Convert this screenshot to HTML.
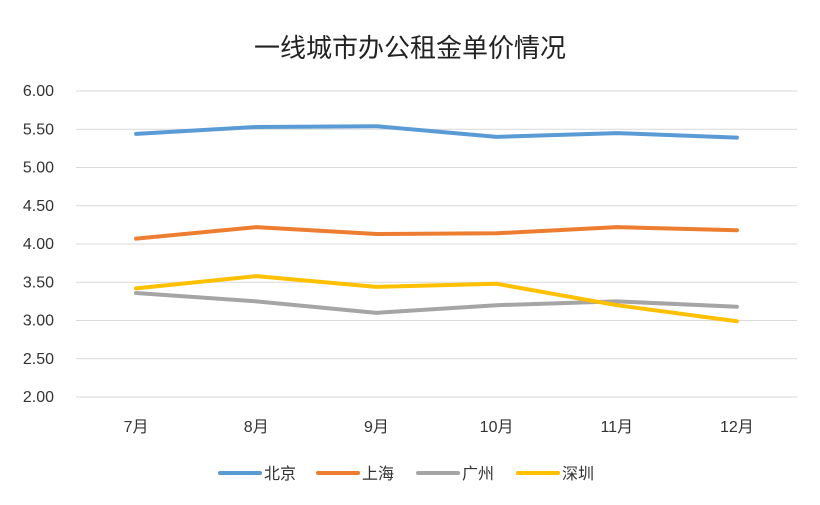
<!DOCTYPE html>
<html><head><meta charset="utf-8">
<style>
body{margin:0;background:#fff;}
svg{display:block;font-family:"Liberation Sans","Noto Sans CJK SC",sans-serif;}
</style></head>
<body>
<svg id="chart" width="820" height="505">
<text x="410" y="57" text-anchor="middle" font-size="26" fill="#222">一线城市办公租金单价情况</text>
<g id="grid"></g><g id="lines"></g><g id="legend"></g>
</svg>
<script>
const categories=["7月","8月","9月","10月","11月","12月"];
const yTicks=[2,2.5,3,3.5,4,4.5,5,5.5,6];
const seriesNames=["北京","上海","广州","深圳"];
const colors=["#5b9bd5","#ed7d31","#a5a5a5","#ffc000"];
const beijing=[5.44,5.53,5.54,5.40,5.45,5.39];
const shanghai=[4.07,4.22,4.13,4.14,4.22,4.18];
const guangzhou=[3.36,3.25,3.10,3.20,3.25,3.18];
const shenzhen=[3.42,3.58,3.44,3.48,3.20,2.99];
const seriesData=[beijing,shanghai,guangzhou,shenzhen];
const NS="http://www.w3.org/2000/svg";
const L=76,R=797,T=91,B=397;
const x=i=>L+(R-L)/categories.length*(i+0.5);
const y=v=>B-(v-2)/(6-2)*(B-T);
function mk(tag,attrs,parent){const e=document.createElementNS(NS,tag);for(const k in attrs)e.setAttribute(k,attrs[k]);parent.appendChild(e);return e;}
const grid=document.getElementById('grid');
yTicks.forEach(t=>{
 const ln=mk('line',{x1:L,x2:R,y1:y(t),y2:y(t),stroke:'#d9d9d9','stroke-width':1},grid);
 
 
 const tx=mk('text',{x:54,y:y(t)+5,'text-anchor':'end','font-size':16,fill:'#333'},grid);
 tx.textContent=t.toFixed(2);
 
 
});
categories.forEach((c,i)=>{
 const tx=mk('text',{x:x(i),y:432,'text-anchor':'middle','font-size':16,fill:'#333'},grid);
 tx.textContent=c;
 
 
});
const lines=document.getElementById('lines');
seriesData.forEach((d,s)=>{
 const p=mk('polyline',{points:d.map((v,i)=>x(i)+','+y(v)).join(' '),fill:'none',stroke:colors[s],'stroke-width':4,'stroke-linejoin':'round','stroke-linecap':'round'},lines);
 
 
});
const lg=document.getElementById('legend');
const lx=[220,318,418,518];
seriesNames.forEach((n,s)=>{
 const g=mk('g',{},lg);
 
 
 mk('line',{x1:lx[s],x2:lx[s]+40,y1:473,y2:473,stroke:colors[s],'stroke-width':4,'stroke-linecap':'round'},g);
 const t=mk('text',{x:lx[s]+44,y:479,'font-size':16,fill:'#333'},g);
 t.textContent=n;
});
</script>
</body></html>
